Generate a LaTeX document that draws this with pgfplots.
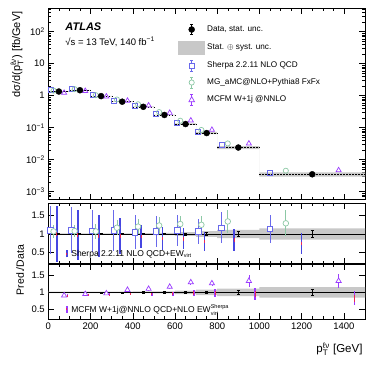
\documentclass[border=0pt]{standalone}
\usepackage{pgfplots}
\pgfplotsset{compat=1.18}
\usepackage{pgfplotstable}
\usepgfplotslibrary{fillbetween}
\usepackage{fontspec}
\setmainfont{Liberation Sans}

\definecolor{sherpa}{RGB}{105,105,235}
\definecolor{sherpaew}{RGB}{70,70,225}
\definecolor{mgc}{RGB}{140,200,165}
\definecolor{mcfm}{RGB}{155,60,255}
\definecolor{ewred}{RGB}{235,40,90}
\definecolor{band}{RGB}{200,200,200}

\newcommand\fs[1]{\fontsize{#1}{#1}\selectfont}
\newcommand\ptlv[1]{p$^{\mbox{\fs{#1}ℓν}}_{\mbox{\fs{#1}T}}$}

% predictions: x, cross section (top), ratio to data, ratio error
\pgfplotstableread{
x    top      r     e
10   1.485    1.10  0.65
110  1.628    1.10  0.62
210  1.048    1.08  0.58
310  0.715    1.10  0.55
410  0.4725   1.05  0.47
510  0.2675   1.07  0.42
610  0.143    1.10  0.42
710  0.0728   1.07  0.35
820  0.0281   1.17  0.42
1050 0.00399  1.14  0.38
}\tabsherpa
\pgfplotstableread{
x    top      r     e
25   1.4445   1.07  0.18
125  1.598    1.08  0.17
225  1.038    1.07  0.20
325  0.7605   1.17  0.20
425  0.54     1.20  0.20
525  0.3075   1.23  0.22
625  0.1651   1.27  0.22
725  0.085    1.25  0.25
850  0.0322   1.34  0.32
1125 0.00452  1.29  0.35
}\tabmg
\pgfplotstableread{
x    top      r     e
75   1.2285   0.91  0.05
175  1.406    0.95  0.05
275  0.941    0.97  0.05
375  0.6955   1.07  0.05
475  0.495    1.10  0.06
575  0.29     1.16  0.06
675  0.1677   1.29  0.08
775  0.0857   1.26  0.08
950  0.0319   1.33  0.17
1375 0.00466  1.33  0.20
}\tabmcfm
% EW-corrected predictions: total error e, inner (red) part c
\pgfplotstableread{
x    r     e     c
40   1.00  0.75  0.05
140  0.97  0.68  0.05
240  0.95  0.57  0.05
340  0.95  0.48  0.05
440  0.93  0.32  0.05
540  0.88  0.32  0.05
640  0.87  0.29  0.05
740  0.80  0.25  0.05
880  0.84  0.29  0.05
1200 0.74  0.28  0.05
}\tabsherpaew
\pgfplotstableread{
x    r     e     c
90   0.90  0.04  0.03
190  0.92  0.04  0.03
290  0.93  0.04  0.03
390  0.95  0.04  0.03
490  0.94  0.05  0.03
590  0.96  0.06  0.04
690  0.98  0.08  0.05
790  0.98  0.12  0.06
980  0.95  0.17  0.08
1450 0.83  0.20  0.10
}\tabmcfmew
% data at bin centres
\pgfplotstableread{
x    top     one  stat
50   1.35    1    0.01
150  1.48    1    0.01
250  0.97    1    0.015
350  0.65    1    0.015
450  0.45    1    0.02
550  0.25    1    0.02
650  0.13    1    0.03
750  0.068   1    0.04
900  0.024   1    0.06
1250 0.0035  1    0.10
}\tabdata
% bin edges: data value and stat+syst band
\pgfplotstableread{
x    d       tlo       thi       rlo    rhi
0    1.35    1.323     1.377     0.98   1.02
100  1.48    1.4504    1.5096    0.98   1.02
200  0.97    0.9506    0.9894    0.98   1.02
300  0.65    0.637     0.663     0.98   1.02
400  0.45    0.43875   0.46125   0.975  1.025
500  0.25    0.2425    0.2575    0.97   1.03
600  0.13    0.1235    0.1365    0.95   1.05
700  0.068   0.06256   0.07344   0.92   1.08
800  0.024   0.02136   0.02664   0.89   1.11
1000 0.0035  0.002975  0.004025  0.85   1.15
1500 0.0035  0.002975  0.004025  0.85   1.15
}\tabband

\pgfplotsset{
  atl/.style={
    scale only axis, width=316.7pt,
    xmin=0, xmax=1500,
    xtick={0,200,...,1400}, minor x tick num=3,
    tick align=inside, xtick pos=both, ytick pos=both,
    major tick length=6pt, minor tick length=3pt,
    every tick/.style={black, line width=0.45pt},
    axis line style={line width=0.6pt},
    tick label style={font=\fs{9.5}},
    /pgf/number format/assume math mode=true,
    /pgf/number format/1000 sep={},
  },
  ebar/.style n args={2}{draw=none, mark=none, forget plot,
    error bars/.cd, y dir=both, y explicit, error mark=none,
    error bar style={draw=#1, line width=#2}},
  dbar/.style={draw=none, mark=none, forget plot,
    error bars/.cd, y dir=both, y explicit, error mark=-,
    error mark options={draw=black, line width=0.6pt, mark size=1.5pt, rotate=90},
    error bar style={draw=black, line width=0.6pt}},
}

\begin{document}
\begin{tikzpicture}

% ---------------- top panel ----------------
\begin{axis}[atl, at={(48.3pt,-8pt)}, anchor=north west, height=191.5pt,
  ymode=log, ymin=5.7e-4, ymax=550,
  xticklabel=\empty,
  ytick={1e-3,1e-2,1e-1,1,10,100},
  yticklabels={10\textsuperscript{−3},10\textsuperscript{−2},10\textsuperscript{−1},1,10,10\textsuperscript{2}},
  minor ytick={6e-4,7e-4,8e-4,9e-4,2e-3,3e-3,4e-3,5e-3,6e-3,7e-3,8e-3,9e-3,
    2e-2,3e-2,4e-2,5e-2,6e-2,7e-2,8e-2,9e-2,0.2,0.3,0.4,0.5,0.6,0.7,0.8,0.9,
    2,3,4,5,6,7,8,9,20,30,40,50,60,70,80,90,200,300,400,500},
  legend style={at={(rel axis cs:0.4095,0.92)}, anchor=north west, draw=none, fill=none,
    font=\fs{8.2}, row sep=5pt, inner sep=0pt, cells={anchor=west},
    /tikz/every even column/.append style={column sep=3pt}},
]
\addlegendimage{legend image code/.code={
  \path[draw=none] (0pt,-6pt) rectangle (27pt,6pt);
  \draw[black, line width=0.6pt] (13.5pt,-5pt)--(13.5pt,5pt) (12pt,5pt)--(15pt,5pt) (12pt,-5pt)--(15pt,-5pt);
  \fill[black] (13.5pt,0pt) circle (3pt);}}
\addlegendentry{Data, stat. unc.}
\addlegendimage{legend image code/.code={
  \fill[band, draw=none] (0pt,-7pt) rectangle (27pt,7pt);}}
\addlegendentry{Stat. $\oplus$ syst. unc.}
\addlegendimage{legend image code/.code={
  \path[draw=none] (0pt,-6pt) rectangle (27pt,6pt);
  \draw[sherpa, line width=0.6pt] (13.5pt,-5.5pt)--(13.5pt,5.5pt) (12pt,5.5pt)--(15pt,5.5pt) (12pt,-5.5pt)--(15pt,-5.5pt);
  \draw[sherpa, fill=white, line width=0.7pt] (11pt,-2.5pt) rectangle (16pt,2.5pt);}}
\addlegendentry{Sherpa 2.2.11 NLO QCD}
\addlegendimage{legend image code/.code={
  \path[draw=none] (0pt,-6pt) rectangle (27pt,6pt);
  \draw[mgc, line width=0.6pt] (13.5pt,-5.5pt)--(13.5pt,5.5pt) (12pt,5.5pt)--(15pt,5.5pt) (12pt,-5.5pt)--(15pt,-5.5pt);
  \draw[mgc, fill=white, line width=0.7pt] (13.5pt,0pt) circle (2.6pt);}}
\addlegendentry{MG\_aMC@NLO+Pythia8 FxFx}
\addlegendimage{legend image code/.code={
  \path[draw=none] (0pt,-6pt) rectangle (27pt,6pt);
  \draw[mcfm, line width=0.6pt] (13.5pt,-5.5pt)--(13.5pt,5.5pt) (12pt,5.5pt)--(15pt,5.5pt) (12pt,-5.5pt)--(15pt,-5.5pt);
  \draw[mcfm, fill=white, line width=0.7pt] (10.7pt,-2.2pt)--(16.3pt,-2.2pt)--(13.5pt,3pt)--cycle;}}
\addlegendentry{MCFM W+1j @NNLO}

\addplot[name path=tu, draw=none, const plot, forget plot] table[x=x,y=thi] \tabband;
\addplot[name path=tl, draw=none, const plot, forget plot] table[x=x,y=tlo] \tabband;
\addplot[band, forget plot] fill between[of=tu and tl];
\addplot[black, line width=0.5pt, dash pattern=on 1.6pt off 1.4pt, jump mark left, forget plot] table[x=x,y=d] \tabband;

\addplot[only marks, mark=square, mark size=2.5pt, sherpa, mark options={line width=0.7pt}, forget plot] table[x=x,y=top] \tabsherpa;
\addplot[only marks, mark=o, mark size=2.6pt, mgc, mark options={line width=0.7pt}, forget plot] table[x=x,y=top] \tabmg;
\addplot[only marks, mark=triangle, mark size=3pt, mcfm, mark options={line width=0.7pt}, forget plot] table[x=x,y=top] \tabmcfm;
\addplot[only marks, mark=*, mark size=3pt, black, forget plot] table[x=x,y=top] \tabdata;

\node[anchor=west, font=\fs{11}\bfseries\itshape] at (rel axis cs:0.043,0.902) {ATLAS};
\node[anchor=west, font=\fs{9.5}] at (rel axis cs:0.043,0.822) {√s = 13 TeV, 140 fb\textsuperscript{−1}};
\end{axis}

% ---------------- middle ratio panel ----------------
\begin{axis}[atl, at={(48.3pt,-203pt)}, anchor=north west, height=60.5pt,
  ymin=0.2, ymax=1.84, ytick={0.5,1,1.5}, xticklabel=\empty,
  legend style={at={(rel axis cs:0.05,0.16)}, anchor=west, draw=none, fill=none,
    font=\fs{8.5}, inner sep=0pt, cells={anchor=west},
    /tikz/every even column/.append style={column sep=2pt}},
]
\addlegendimage{legend image code/.code={
  \path[draw=none] (0pt,-4pt) rectangle (5pt,4pt);
  \draw[sherpaew, line width=1.6pt] (2.5pt,-3.5pt)--(2.5pt,3.5pt);
  \draw[ewred, line width=1pt] (2.5pt,-0.8pt)--(2.5pt,0.8pt);}}
\addlegendentry{Sherpa 2.2.11 NLO QCD+EW$_{\mbox{\fs{5.5}virt}}$}

\addplot[name path=ru, draw=none, const plot, forget plot] table[x=x,y=rhi] \tabband;
\addplot[name path=rl, draw=none, const plot, forget plot] table[x=x,y=rlo] \tabband;
\addplot[band, forget plot] fill between[of=ru and rl];
\addplot[black, line width=0.8pt, forget plot] coordinates {(0,1) (1500,1)};

\addplot[ebar={sherpaew}{1.6pt}] table[x=x,y=r,y error=e] \tabsherpaew;
\addplot[ebar={ewred}{1pt}] table[x=x,y=r,y error=c] \tabsherpaew;
\addplot[ebar={sherpa}{0.7pt}] table[x=x,y=r,y error=e] \tabsherpa;
\addplot[only marks, mark=square*, mark size=2.8pt, mark options={draw=sherpa, fill=white, line width=0.7pt}, forget plot]
  table[x=x,y=r] \tabsherpa;
\addplot[ebar={mgc}{0.7pt}] table[x=x,y=r,y error=e] \tabmg;
\addplot[only marks, mark=*, mark size=2.8pt, mark options={draw=mgc, fill=white, line width=0.7pt}, forget plot]
  table[x=x,y=r] \tabmg;
\addplot[dbar] table[x=x,y=one,y error=stat] \tabdata;
\end{axis}

% ---------------- bottom ratio panel ----------------
\begin{axis}[atl, at={(48.3pt,-264.3pt)}, anchor=north west, height=55pt,
  ymin=0.22, ymax=1.81, ytick={0.5,1,1.5},
  legend style={at={(rel axis cs:0.05,0.186)}, anchor=west, draw=none, fill=none,
    font=\fs{8.5}, inner sep=0pt, cells={anchor=west},
    /tikz/every even column/.append style={column sep=2pt}},
]
\addlegendimage{legend image code/.code={
  \path[draw=none] (0pt,-4pt) rectangle (5pt,4pt);
  \draw[mcfm, line width=1.6pt] (2.5pt,-3.5pt)--(2.5pt,3.5pt);
  \draw[ewred, line width=1pt] (2.5pt,-0.8pt)--(2.5pt,0.8pt);}}
\addlegendentry{MCFM W+1j@NNLO QCD+NLO EW$^{\mbox{\fs{5.5}Sherpa}}_{\mbox{\fs{5.5}virt}}$}

\addplot[name path=bu, draw=none, const plot, forget plot] table[x=x,y=rhi] \tabband;
\addplot[name path=bl, draw=none, const plot, forget plot] table[x=x,y=rlo] \tabband;
\addplot[band, forget plot] fill between[of=bu and bl];
\addplot[black, line width=0.8pt, forget plot] coordinates {(0,1) (1500,1)};

\addplot[ebar={mcfm}{1.6pt}] table[x=x,y=r,y error=e] \tabmcfmew;
\addplot[ebar={ewred}{1pt}] table[x=x,y=r,y error=c] \tabmcfmew;
\addplot[ebar={mcfm}{0.7pt}] table[x=x,y=r,y error=e] \tabmcfm;
\addplot[only marks, mark=triangle*, mark size=3pt, mark options={draw=mcfm, fill=white, line width=0.7pt}, forget plot]
  table[x=x,y=r] \tabmcfm;
\addplot[dbar] table[x=x,y=one,y error=stat] \tabdata;
\end{axis}

% axis titles
\node[rotate=90, anchor=east, font=\fs{11}] at (17pt,-8pt) {dσ/d(\ptlv{8}) [fb/GeV]};
\node[rotate=90, font=\fs{10.5}] at (20pt,-270pt) {Pred./Data};
\node[anchor=east, font=\fs{11.5}] at (366pt,-349pt) {\ptlv{8} [GeV]};
\path (0pt,0pt) rectangle (374pt,-365pt);
\end{tikzpicture}
\end{document}
